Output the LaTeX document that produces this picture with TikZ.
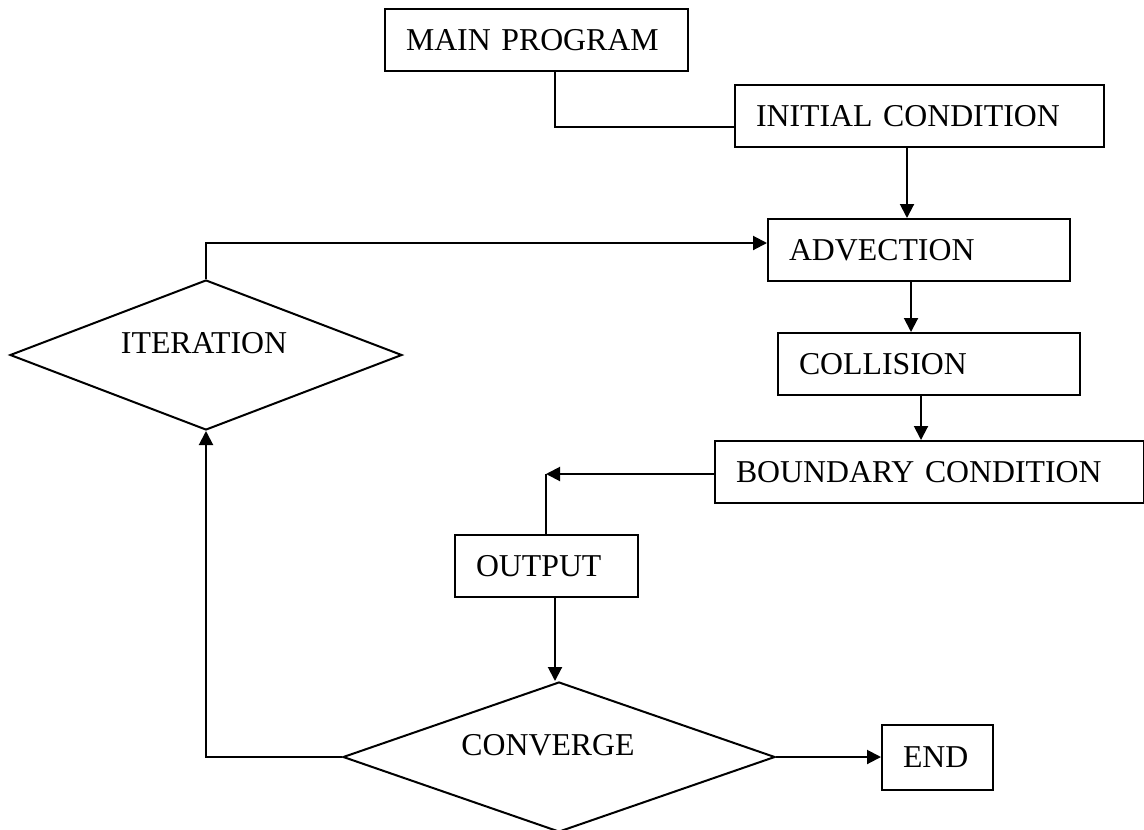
\documentclass[tikz,border=0pt]{standalone}
\usepackage{fontspec}
\setmainfont{Liberation Serif}
\usetikzlibrary{arrows.meta,shapes.geometric,calc}
\begin{document}
\begin{tikzpicture}[x=0.5pt,y=-0.5pt,
  every node/.style={font=\fontsize{15.9pt}{18pt}\selectfont},
  box/.style={draw,line width=1pt,rectangle,inner xsep=10.5pt,inner ysep=0pt,align=left,anchor=north west},
  dia/.style={draw,line width=1pt,diamond,inner sep=0pt},
  conn/.style={line width=1pt},
  arr/.style={line width=1pt,-{Triangle[length=7pt,width=7pt]}}]
\useasboundingbox (0,0) rectangle (1144,829);
% boxes: text width = (W-42)/2 pt, minimum height = H/2 pt
\node[box,text width=130.5pt,minimum height=31pt] (main) at (384,8) {MAIN PROGRAM};
\node[box,text width=163.5pt,minimum height=31pt] (init) at (734,84) {INITIAL CONDITION};
\node[box,text width=130pt,minimum height=31pt] (adv) at (767,218) {ADVECTION};
\node[box,text width=130pt,minimum height=31pt] (col) at (777,332) {COLLISION};
\node[box,text width=193.5pt,minimum height=31pt] (bnd) at (714,440) {BOUNDARY CONDITION};
\node[box,text width=70.5pt,minimum height=31pt] (out) at (454,534) {OUTPUT};
\node[box,text width=34.5pt,minimum height=32.5pt] (end) at (881,724) {END};
\node[dia,minimum width=196pt,minimum height=75pt] (iter) at (206,355)
  {\makebox[0pt]{\raisebox{1pt}[0pt][0pt]{\hspace*{-2pt}ITERATION}}};
\node[dia,minimum width=216pt,minimum height=75pt] (conv) at (559,757)
  {\makebox[0pt]{\raisebox{1pt}[0pt][0pt]{\hspace*{-11pt}CONVERGE}}};
% helper coordinates
\coordinate (x1) at (555,127);
\coordinate (x2) at (907,0);
\coordinate (x3) at (911,0);
\coordinate (x4) at (921,0);
\coordinate (x5) at (546,474);
\coordinate (x6) at (555,0);
\coordinate (x7) at (0,243);
% connectors
\draw[conn] (main.south -| x1) -- (x1) -- (init.west |- x1);
\draw[arr] (init.south -| x2) -- (adv.north -| x2);
\draw[arr] (adv.south -| x3) -- (col.north -| x3);
\draw[arr] (col.south -| x4) -- (bnd.north -| x4);
\draw[arr] (bnd.west |- x5) -- (x5);
\draw[conn] (x5) -- (out.north -| x5);
\draw[arr] (out.south -| x6) -- (conv.north -| x6);
\draw[arr] (conv.east) -- (end.west |- conv.east);
\draw[arr] (conv.west) -| (iter.south);
\draw[arr] (iter.north) |- (adv.west |- x7);
\end{tikzpicture}
\end{document}
